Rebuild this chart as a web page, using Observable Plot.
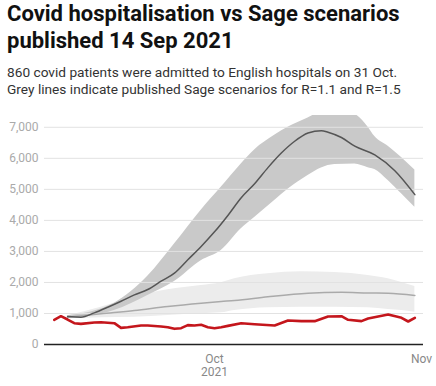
<!DOCTYPE html>
<html>
<head>
<meta charset="utf-8">
<script src="https://cdn.jsdelivr.net/npm/d3@7"></script>
<script src="https://cdn.jsdelivr.net/npm/@observablehq/plot@0.6"></script>
<style>
  html, body { margin: 0; padding: 0; background: #fff; }
  body { width: 436px; height: 386px; position: relative; overflow: hidden; font-family: Roboto, "Noto Sans", sans-serif; }
  #title { position: absolute; left: 7px; top: 1.4px; font-size: 22px; line-height: 26.3px; font-weight: 700; color: #111; white-space: nowrap; }
  #subtitle { position: absolute; left: 7px; top: 64.3px; font-size: 13.7px; line-height: 16.7px; color: #333; white-space: nowrap; }
  #chart { position: absolute; left: 0; top: 100px; }
</style>
</head>
<body>
<div id="title">Covid hospitalisation vs Sage scenarios<br>published 14 Sep 2021</div>
<div id="subtitle">860 covid patients were admitted to English hospitals on 31 Oct.<br>Grey lines indicate published Sage scenarios for R=1.1 and R=1.5</div>
<div id="chart"></div>
<script>
// Days are offsets from 1 Oct 2021
const redDays   = [-24,-23,-22,-21,-20,-18,-17,-15,-14,-13,-11,-10,-8,-7,-6,-5,-4,-3,-2,-1,0,1,2,4,6,9,11,13,15,17,19,20,22,23,26,28,29,30];
const redValues = [795,912,805,687,666,709,718,687,537,558,612,612,580,558,505,526,623,612,634,558,526,558,601,687,655,612,773,752,752,902,912,795,752,838,966,859,741,860];

// Sage scenario R=1.5 (dark)
const highMidDays   = [-22,-20,-18,-16,-14,-12,-10,-8,-6,-4,-2,0,2,4,6,8,10,12,14,16,17,19,21,24,27,30];
const highMidValues = [900,880,1020,1200,1395,1600,1772,2040,2300,2730,3160,3630,4160,4730,5180,5700,6170,6550,6815,6890,6840,6670,6390,6110,5600,4830];
const highBandDays  = [-22,-15,-10,-6,-2,1,4,6,9,11,14,16,18,21,23,24,26,28,30];
const highUpper     = [925,1330,2200,3240,4330,5070,5820,6270,6740,7000,7300,7500,7550,7420,7000,6700,6390,6030,5620];
const highLower     = [860,1095,1579,2030,2700,3030,3730,4090,4640,5000,5445,5690,5800,5820,5700,5640,5284,4855,4423];

// Sage scenario R=1.1 (light)
const lowMidDays    = [-22,-17,-12,-7,-2,1,3,8,14,19,23,26,30];
const lowMidValues  = [880,990,1095,1224,1330,1385,1418,1540,1653,1680,1660,1653,1579];
const lowBandDays   = [-22,-17,-12,-7,-2,1,3,8,13,18,23,26,28,30];
const lowUpper      = [925,1202,1524,1762,1900,1988,2116,2277,2342,2320,2223,2116,2000,1869];
const lowLower      = [828,860,880,934,990,1020,1095,1182,1202,1202,1182,1130,1095,1041];

const yTicks = [0,1000,2000,3000,4000,5000,6000,7000];
const xTickDays = [0, 31];
const xTickLabels = ["Oct\n2021", "Nov"];

const day = d => new Date(Date.UTC(2021, 9, 1 + d));

const red = redDays.map((d, i) => ({date: day(d), v: redValues[i]}));
const highMid = highMidDays.map((d, i) => ({date: day(d), v: highMidValues[i]}));
const highBand = highBandDays.map((d, i) => ({date: day(d), lo: highLower[i], hi: highUpper[i]}));
const lowMid = lowMidDays.map((d, i) => ({date: day(d), v: lowMidValues[i]}));
const lowBand = lowBandDays.map((d, i) => ({date: day(d), lo: lowLower[i], hi: lowUpper[i]}));

const xTicks = xTickDays.map(day);
const fmtX = d => xTickLabels[xTicks.findIndex(t => +t === +d)];

const chart = Plot.plot({
  width: 436,
  height: 286,
  marginLeft: 44,
  marginRight: 13,
  marginTop: 15,
  marginBottom: 42,
  style: {fontFamily: "Roboto, sans-serif", fontSize: "12px", background: "#fff"},
  x: {type: "utc", domain: [new Date(Date.UTC(2021, 8, 5, 13)), new Date(Date.UTC(2021, 10, 1, 7))]},
  y: {domain: [0, 7380]},
  marks: [
    Plot.areaY(lowBand, {x: "date", y1: "lo", y2: "hi", fill: "#ececec", curve: "monotone-x", clip: true}),
    Plot.areaY(highBand, {x: "date", y1: "lo", y2: "hi", fill: "#c9c9c9", curve: "monotone-x", clip: true}),
    Plot.gridY(yTicks.filter(t => t > 0), {stroke: "#e2e2e2", strokeOpacity: 1, strokeWidth: 1}),
    Plot.lineY(lowMid, {x: "date", y: "v", stroke: "#aaaaaa", strokeWidth: 1.5, curve: "monotone-x"}),
    Plot.lineY(highMid, {x: "date", y: "v", stroke: "#555555", strokeWidth: 1.5, curve: "monotone-x"}),
    Plot.lineY(red, {x: "date", y: "v", stroke: "#c4161c", strokeWidth: 2.6, strokeLinejoin: "round"}),
    Plot.ruleY([0], {stroke: "#222", strokeWidth: 1.5}),
    Plot.axisY({ticks: yTicks, tickSize: 0, tickPadding: 6, tickFormat: d3.format(","), fill: "#aaa", fontSize: 12, label: null}),
    Plot.axisX({ticks: xTicks, tickSize: 0, tickPadding: 9, tickFormat: fmtX, fill: "#888", fontSize: 12, lineHeight: 1.1, label: null})
  ]
});
document.getElementById("chart").appendChild(chart);
</script>
</body>
</html>
